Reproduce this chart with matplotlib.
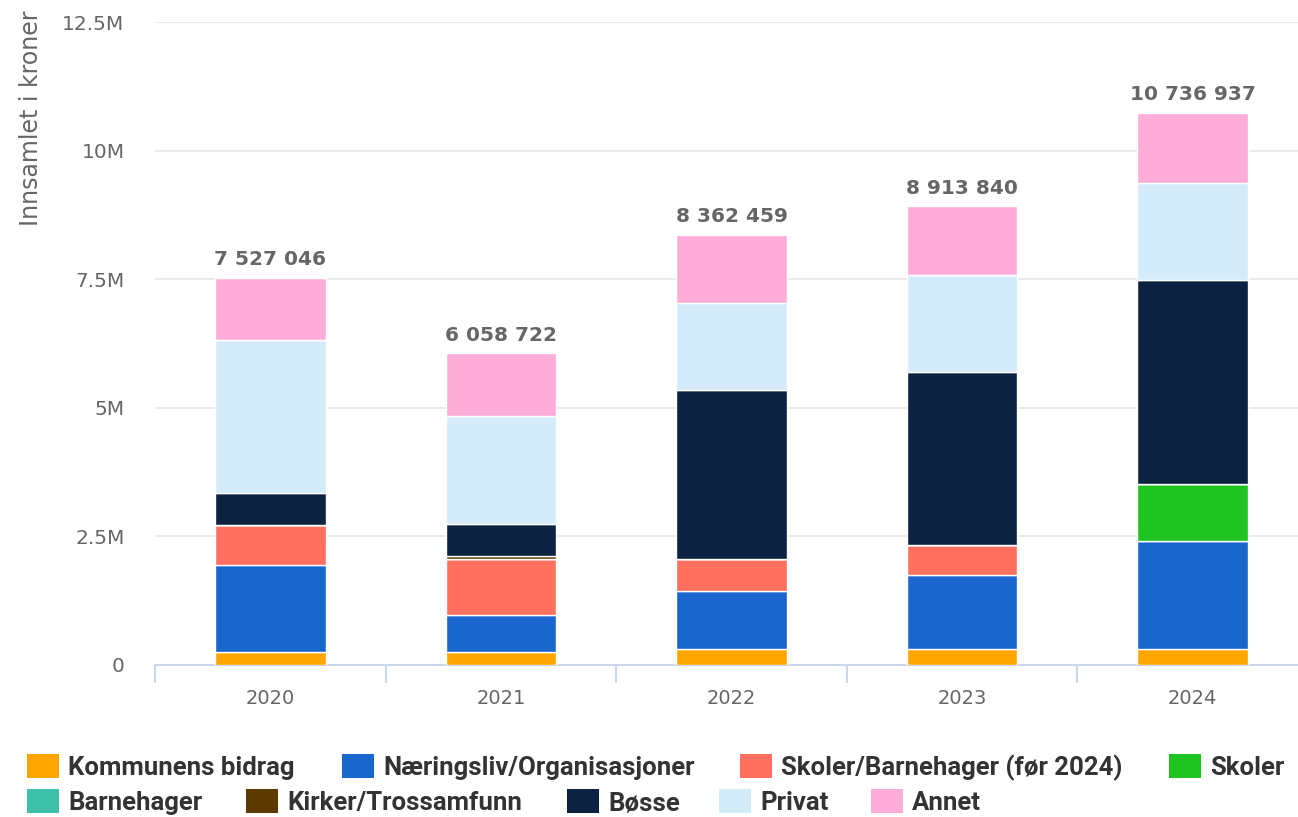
#!/usr/bin/env python3
import matplotlib
matplotlib.use("Agg")
import matplotlib.pyplot as plt
from matplotlib.patches import Rectangle
import numpy as np

years = ["2020", "2021", "2022", "2023", "2024"]
totals = [7527046, 6058722, 8362459, 8913840, 10736937]

# values in millions of kroner
kommunens = [0.25, 0.25, 0.31, 0.32, 0.31]
naeringsliv = [1.70, 0.72, 1.13, 1.43, 2.11]
skoler_barnehager = [0.78, 1.09, 0.62, 0.59, 0.0]
skoler = [0.0, 0.0, 0.0, 0.0, 1.09]
barnehager = [0.0, 0.0, 0.0, 0.0, 0.0]
kirker = [0.0, 0.05, 0.0, 0.0, 0.0]
bosse = [0.62, 0.64, 3.28, 3.35, 3.97]
privat = [2.97, 2.09, 1.69, 1.89, 1.89]
annet = [1.207, 1.219, 1.332, 1.334, 1.367]

series_names = [
    "Kommunens bidrag", "Næringsliv/Organisasjoner", "Skoler/Barnehager (før 2024)",
    "Skoler", "Barnehager", "Kirker/Trossamfunn", "Bøsse", "Privat", "Annet",
]
series_values = [kommunens, naeringsliv, skoler_barnehager, skoler, barnehager,
                 kirker, bosse, privat, annet]
colors = ["#ffa500", "#1966cc", "#ff705f", "#1fc421", "#3ebfa8", "#5c3a00",
          "#0b2341", "#d4ebf9", "#fdadd8"]

W, H = 1298, 817
fig = plt.figure(figsize=(W / 100, H / 100), dpi=100)


def fx(x):
    return x / W


def fy(y):
    return 1 - y / H


ax = fig.add_axes([fx(155), fy(665), fx(1308 - 155), (665 - 22) / H])

x = np.arange(len(years))
bottom = np.zeros(len(years))
for name, vals, col in zip(series_names, series_values, colors):
    v = np.array(vals)
    ax.bar(x, v, width=0.48, bottom=bottom, color=col, edgecolor="white",
           linewidth=1, zorder=3)
    bottom += v

for xi, top, tot in zip(x, bottom, totals):
    label = f"{tot:,}".replace(",", " ")
    ax.annotate(label, (xi, top), xytext=(0, 9), textcoords="offset points",
                ha="center", va="baseline", fontsize=14.5, fontweight="semibold",
                color="#666666", zorder=4)

ax.set_xlim(-0.5, len(years) - 0.5)
ax.set_ylim(0, 12.5)
ax.set_yticks([0, 2.5, 5, 7.5, 10, 12.5])
ax.set_yticklabels(["0", "2.5M", "5M", "7.5M", "10M", "12.5M"])
ax.set_xticks(x)
ax.set_xticklabels(years)
ax.set_xticks(np.arange(-0.5, len(years)), minor=True)

ax.tick_params(axis="y", length=0, pad=22, labelsize=14.5, labelcolor="#666666")
ax.tick_params(axis="x", which="major", length=0, pad=17, labelsize=14,
               labelcolor="#666666")
ax.tick_params(axis="x", which="minor", length=13, width=1.5, color="#ccd6eb",
               direction="out")

ax.grid(axis="y", color="#e6e6e6", linewidth=1.2, zorder=0)
for side in ["left", "right", "top"]:
    ax.spines[side].set_visible(False)
ax.spines["bottom"].set_color("#ccd6eb")
ax.spines["bottom"].set_linewidth(1.5)

fig.text(fx(31), fy(10), "Innsamlet i kroner", rotation=90, ha="center",
         va="top", fontsize=17, color="#666666")

# legend, laid out in two rows like the original
legend_pos = [(27, 766), (342, 766), (740, 766), (1169, 766),
              (27, 801), (246, 801), (567, 801), (719, 801), (871, 801)]
for idx, (lx, ly) in enumerate(legend_pos):
    fig.patches.append(Rectangle((fx(lx), fy(ly + 12)), 32 / W, 24 / H,
                                 transform=fig.transFigure, facecolor=colors[idx],
                                 edgecolor="none"))
    fig.text(fx(lx + 41), fy(ly + 9), series_names[idx], ha="left", va="baseline",
             fontsize=18.5, fontweight="bold", color="#333333", family="Roboto")

fig.savefig("out.png", dpi=100)
